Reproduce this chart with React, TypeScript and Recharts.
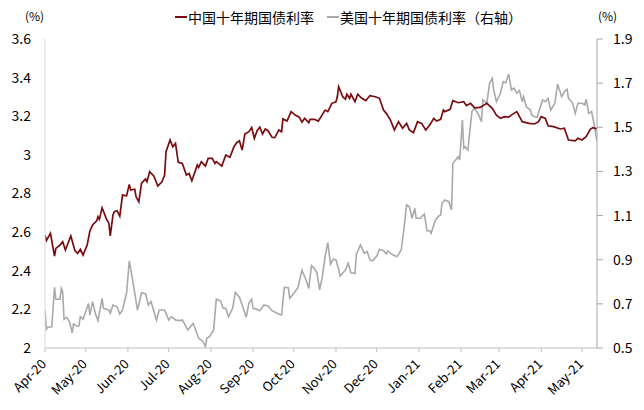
import React from 'react';
import { LineChart, Line, XAxis, YAxis } from 'recharts';

// Days since 2020-04-01
const monthTicks = [0, 30, 61, 91, 122, 153, 183, 214, 244, 275, 306, 334, 365, 395];
const monthLabels = ['Apr-20', 'May-20', 'Jun-20', 'Jul-20', 'Aug-20', 'Sep-20', 'Oct-20', 'Nov-20', 'Dec-20', 'Jan-21', 'Feb-21', 'Mar-21', 'Apr-21', 'May-21'];
const leftTicks = [2, 2.2, 2.4, 2.6, 2.8, 3, 3.2, 3.4, 3.6];
const rightTicks = [0.5, 0.7, 0.9, 1.1, 1.3, 1.5, 1.7, 1.9];

const seriesNames = ['中国十年期国债利率', '美国十年期国债利率（右轴）'];

const cnDays = [0, 1, 4, 7, 8, 11, 13, 15, 19, 22, 24, 26, 28, 31, 33, 35, 38, 39, 40, 42, 45, 47, 48, 50, 51, 53, 55, 57, 60, 62, 63, 66, 67, 69, 71, 74, 75, 77, 80, 83, 86, 88, 89, 92, 94, 96, 98, 101, 104, 106, 108, 112, 113, 115, 118, 120, 123, 125, 126, 130, 133, 136, 139, 141, 143, 145, 147, 150, 152, 154, 156, 158, 160, 162, 164, 167, 169, 172, 174, 175, 178, 181, 184, 187, 189, 191, 194, 195, 198, 201, 206, 208, 211, 214, 215, 216, 219, 221, 222, 224, 225, 228, 230, 233, 236, 239, 243, 246, 249, 251, 254, 257, 260, 263, 266, 268, 271, 274, 277, 280, 283, 286, 288, 291, 293, 294, 298, 300, 304, 308, 310, 313, 316, 320, 325, 329, 332, 335, 338, 341, 343, 347, 351, 356, 360, 363, 365, 368, 370, 374, 379, 382, 385, 390, 392, 395, 398, 401, 403, 406];
const cnVals = [2.585, 2.556, 2.594, 2.476, 2.516, 2.533, 2.55, 2.507, 2.58, 2.504, 2.49, 2.511, 2.481, 2.533, 2.606, 2.637, 2.659, 2.68, 2.666, 2.726, 2.671, 2.645, 2.581, 2.689, 2.706, 2.711, 2.683, 2.792, 2.788, 2.847, 2.818, 2.822, 2.783, 2.757, 2.853, 2.875, 2.861, 2.913, 2.891, 2.839, 2.861, 2.896, 3.016, 3.077, 3.042, 3.06, 2.961, 2.956, 2.896, 2.904, 2.866, 2.947, 2.935, 2.965, 2.942, 2.982, 2.982, 2.956, 2.965, 2.942, 2.999, 2.987, 3.042, 3.063, 3.073, 3.025, 3.108, 3.12, 3.141, 3.086, 3.125, 3.143, 3.108, 3.134, 3.125, 3.091, 3.089, 3.129, 3.12, 3.186, 3.175, 3.224, 3.206, 3.195, 3.169, 3.189, 3.167, 3.184, 3.184, 3.175, 3.232, 3.224, 3.267, 3.275, 3.301, 3.353, 3.301, 3.288, 3.314, 3.293, 3.314, 3.275, 3.314, 3.293, 3.281, 3.307, 3.301, 3.293, 3.232, 3.215, 3.181, 3.129, 3.172, 3.138, 3.163, 3.129, 3.115, 3.172, 3.163, 3.129, 3.155, 3.189, 3.175, 3.184, 3.232, 3.224, 3.236, 3.281, 3.27, 3.275, 3.255, 3.267, 3.244, 3.246, 3.267, 3.241, 3.206, 3.189, 3.198, 3.195, 3.206, 3.224, 3.172, 3.163, 3.16, 3.172, 3.198, 3.189, 3.151, 3.146, 3.134, 3.138, 3.077, 3.073, 3.086, 3.077, 3.094, 3.132, 3.141, 3.134];

const usDays = [0, 1, 2, 5, 7, 8, 11, 12, 13, 14, 16, 18, 20, 21, 23, 25, 26, 28, 32, 33, 35, 37, 39, 42, 43, 47, 48, 50, 53, 55, 57, 60, 62, 64, 66, 68, 71, 74, 76, 78, 82, 84, 88, 91, 93, 96, 99, 101, 105, 109, 111, 113, 116, 118, 119, 121, 124, 126, 129, 131, 133, 135, 138, 140, 143, 145, 148, 150, 152, 153, 156, 158, 161, 164, 167, 170, 174, 176, 179, 180, 183, 186, 189, 192, 194, 196, 198, 200, 202, 204, 206, 208, 210, 212, 214, 216, 217, 221, 223, 225, 228, 229, 232, 235, 237, 239, 241, 244, 246, 249, 251, 252, 256, 259, 262, 264, 265, 266, 268, 270, 272, 273, 276, 279, 281, 283, 284, 287, 289, 291, 292, 294, 297, 299, 300, 302, 304, 305, 307, 308, 309, 311, 314, 316, 319, 321, 322, 325, 327, 329, 330, 332, 335, 337, 339, 341, 342, 343, 345, 347, 349, 351, 352, 354, 357, 358, 360, 362, 364, 366, 368, 370, 372, 375, 377, 380, 382, 384, 385, 388, 390, 392, 395, 397, 398, 400, 402, 404, 406];
const usVals = [0.672, 0.585, 0.594, 0.596, 0.775, 0.721, 0.721, 0.77, 0.755, 0.63, 0.639, 0.619, 0.569, 0.609, 0.6, 0.601, 0.642, 0.63, 0.702, 0.649, 0.71, 0.657, 0.624, 0.725, 0.68, 0.672, 0.657, 0.695, 0.687, 0.654, 0.672, 0.748, 0.895, 0.823, 0.75, 0.672, 0.75, 0.745, 0.695, 0.71, 0.627, 0.672, 0.672, 0.627, 0.642, 0.627, 0.624, 0.627, 0.581, 0.612, 0.578, 0.544, 0.532, 0.506, 0.544, 0.551, 0.581, 0.721, 0.714, 0.68, 0.68, 0.642, 0.68, 0.752, 0.73, 0.695, 0.639, 0.705, 0.721, 0.68, 0.675, 0.669, 0.695, 0.69, 0.669, 0.66, 0.649, 0.775, 0.773, 0.725, 0.748, 0.773, 0.853, 0.808, 0.77, 0.873, 0.862, 0.841, 0.763, 0.823, 0.914, 0.977, 0.88, 0.902, 0.899, 0.857, 0.826, 0.853, 0.884, 0.841, 0.838, 0.924, 0.967, 0.929, 0.936, 0.899, 0.895, 0.917, 0.947, 0.941, 0.926, 0.94, 0.921, 0.914, 0.944, 1.038, 1.095, 1.148, 1.14, 1.088, 1.133, 1.088, 1.088, 1.107, 1.031, 1.031, 1.02, 1.077, 1.095, 1.103, 1.156, 1.171, 1.163, 1.125, 1.337, 1.352, 1.367, 1.352, 1.533, 1.405, 1.412, 1.397, 1.571, 1.586, 1.556, 1.525, 1.624, 1.609, 1.699, 1.722, 1.669, 1.616, 1.654, 1.707, 1.702, 1.741, 1.707, 1.669, 1.677, 1.654, 1.666, 1.616, 1.639, 1.593, 1.578, 1.556, 1.548, 1.545, 1.586, 1.624, 1.616, 1.631, 1.578, 1.609, 1.696, 1.639, 1.661, 1.672, 1.631, 1.611, 1.563, 1.609, 1.609, 1.601, 1.627, 1.563, 1.571, 1.51, 1.435];

const cnData = cnDays.map((d, i) => ({ d, v: cnVals[i] }));
const usData = usDays.map((d, i) => ({ d, v: usVals[i] }));

const FONT = '"Noto Sans CJK SC", "Noto Sans", sans-serif';
const CN_COLOR = '#7a0c10';
const US_COLOR = '#a9a9a9';

const fmt = (v: number) => String(Number(v.toFixed(1)));

const XTick = (props: any) => {
  const { x, y, payload } = props;
  const i = monthTicks.indexOf(payload.value);
  const label = i >= 0 ? monthLabels[i] : '';
  const tx = x + 2;
  const ty = y + 11;
  return (
    <text
      x={tx}
      y={ty}
      transform={`rotate(-45 ${tx} ${ty})`}
      textAnchor="end"
      fontSize={13}
      fontFamily={FONT}
      fill="#000"
    >
      {label}
    </text>
  );
};

export default function App() {
  return (
    <div style={{ position: 'absolute', left: 0, top: 0, width: 644, height: 410, background: '#fff', fontFamily: FONT }}>
      <LineChart width={644} height={410} margin={{ top: 39, right: 0, bottom: 0, left: 0 }}>
        <XAxis
          dataKey="d"
          type="number"
          domain={[0, 406]}
          ticks={monthTicks}
          interval={0}
          allowDataOverflow
          height={62}
          stroke="#bfbfbf"
          tickSize={4}
          tickMargin={2}
          tick={<XTick />}
        />
        <YAxis
          yAxisId="left"
          domain={[2, 3.6]}
          ticks={leftTicks}
          interval={0}
          width={45}
          stroke="#d9d9d9"
          tickLine={false}
          tickSize={0}
          tickMargin={14}
          tickFormatter={fmt}
          tick={{ fill: '#000', fontSize: 14, fontFamily: FONT }}
        />
        <YAxis
          yAxisId="right"
          orientation="right"
          domain={[0.5, 1.9]}
          ticks={rightTicks}
          interval={0}
          width={47}
          stroke="#a6a6a6"
          tickSize={6}
          tickMargin={10}
          tickFormatter={fmt}
          tick={{ fill: '#000', fontSize: 14, fontFamily: FONT }}
        />
        <Line
          yAxisId="right"
          data={usData}
          dataKey="v"
          name={seriesNames[1]}
          stroke={US_COLOR}
          strokeWidth={1.6}
          dot={false}
          activeDot={false}
          isAnimationActive={false}
        />
        <Line
          yAxisId="left"
          data={cnData}
          dataKey="v"
          name={seriesNames[0]}
          stroke={CN_COLOR}
          strokeWidth={1.7}
          dot={false}
          activeDot={false}
          isAnimationActive={false}
        />
      </LineChart>
      <div style={{ position: 'absolute', left: 25, top: 7, fontSize: 12, color: '#000' }}>(%)</div>
      <div style={{ position: 'absolute', left: 598, top: 7, fontSize: 12, color: '#000' }}>(%)</div>
      <div style={{ position: 'absolute', left: 175, top: 7, fontSize: 14, color: '#000', display: 'flex', alignItems: 'center', whiteSpace: 'nowrap', lineHeight: '20px' }}>
        <span style={{ display: 'inline-block', width: 12, height: 2, background: CN_COLOR, marginRight: 1 }} />
        <span>{seriesNames[0]}</span>
        <span style={{ display: 'inline-block', width: 12, height: 2, background: US_COLOR, marginLeft: 13, marginRight: 1 }} />
        <span>{seriesNames[1]}</span>
      </div>
    </div>
  );
}
